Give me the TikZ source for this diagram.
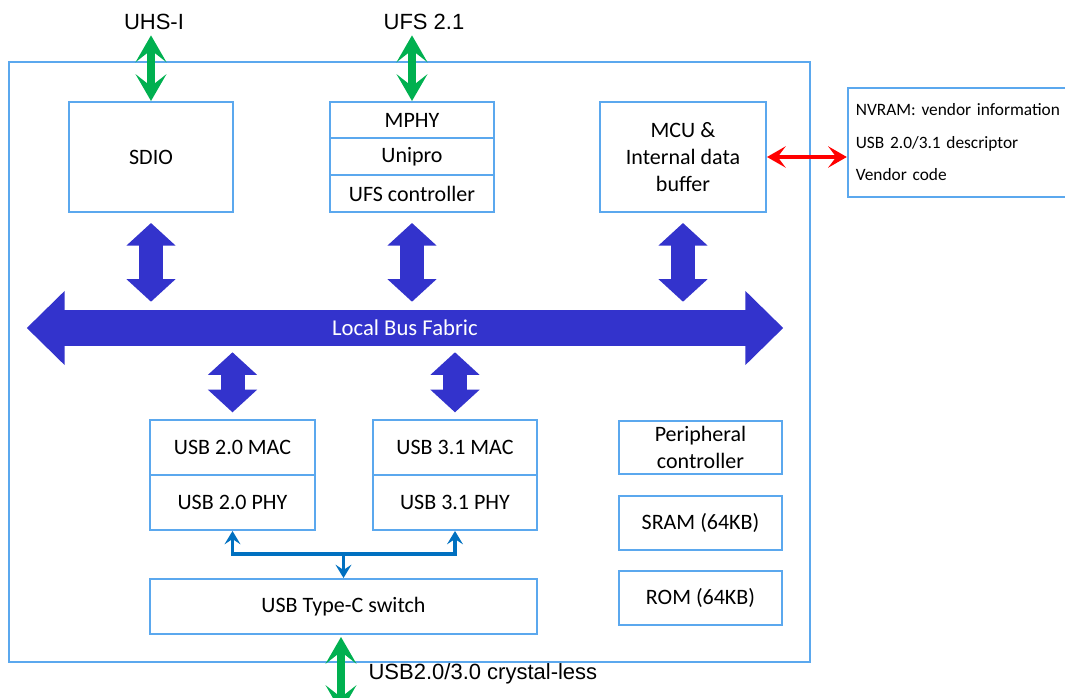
\documentclass[tikz,border=0pt]{standalone}
\usepackage{fontspec}
\setmainfont{Carlito}
\newfontfamily\arialfont{Liberation Sans}
\usetikzlibrary{arrows.meta}
\definecolor{boxblue}{HTML}{5BA8EE}
\definecolor{busblue}{HTML}{3333CC}
\definecolor{linkgreen}{HTML}{00B050}
\definecolor{usbblue}{HTML}{0070C0}

\begin{document}
\begin{tikzpicture}[x=0.75pt,y=-0.75pt,
  blk/.style={draw=boxblue,line width=1.5pt,inner sep=0pt,align=center,
    font=\fontsize{16.5}{20}\selectfont},
  lbl/.style={inner sep=1pt,font=\arialfont\fontsize{16.5}{19}\selectfont},
  fatarrow/.style={draw=busblue,line width=18pt,
    {Triangle[length=17pt,width=36pt]}-{Triangle[length=17pt,width=36pt]}},
  busarrow/.style={draw=busblue,line width=27pt,
    {Triangle[length=28.5pt,width=54pt]}-{Triangle[length=28.5pt,width=54pt]}},
  greenarrow/.style={draw=linkgreen,line width=6.5pt,
    {Stealth[length=20pt,width=23pt,inset=9pt]}-{Stealth[length=20pt,width=23pt,inset=9pt]}},
  redarrow/.style={draw=red,line width=3pt,
    {Stealth[length=14pt,width=16pt,inset=6pt]}-{Stealth[length=14pt,width=16pt,inset=6pt]}},
  usbline/.style={draw=usbblue,line width=2.5pt,
    arrows={-Stealth[length=10pt,width=12pt,inset=4pt]}}]
\useasboundingbox (0,0) rectangle (1065,698);

% chip outline
\draw[boxblue,line width=1.5pt] (9,62) rectangle (810,662);

% top row
\node[blk,minimum width=123pt,minimum height=82.5pt] (sdio) at (151,157) {SDIO};
\node[blk,minimum width=123pt,minimum height=27pt] (mphy) at (412,120) {MPHY};
\node[blk,minimum width=123pt,minimum height=27.75pt] (unipro) at (412,156.5) {Unipro};
\node[blk,minimum width=123pt,minimum height=27.75pt] (ufsc) at (412,193.5) {UFS controller};
\node[blk,minimum width=124.5pt,minimum height=82.5pt] (mcu) at (683,157) {MCU \&\\Internal data\\buffer};
\node[blk,minimum width=171.75pt,minimum height=81.75pt,text width=160pt,inner xsep=6pt,
  align=left,font=\fontsize{13}{24.4}\selectfont] (nvram) at (962.5,142.5)
  {NVRAM: vendor information\\USB 2.0/3.1 descriptor\\Vendor code};

% bottom row
\node[blk,minimum width=123.75pt,minimum height=41.25pt] (usbmacA) at (232.5,447.5) {USB 2.0 MAC};
\node[blk,minimum width=123.75pt,minimum height=41.25pt] (usbphyA) at (232.5,502.5) {USB 2.0 PHY};
\node[blk,minimum width=123pt,minimum height=41.25pt] (usbmacB) at (455,447.5) {USB 3.1 MAC};
\node[blk,minimum width=123pt,minimum height=41.25pt] (usbphyB) at (455,502.5) {USB 3.1 PHY};
\node[blk,minimum width=290.25pt,minimum height=41.25pt] (switch) at (343.5,606.5) {USB Type-C switch};
\node[blk,minimum width=122.25pt,minimum height=39.75pt] (periph) at (700.5,447.5) {Peripheral\\controller};
\node[blk,minimum width=122.25pt,minimum height=40.5pt] (sram) at (700.5,523) {SRAM (64KB)};
\node[blk,minimum width=122.25pt,minimum height=40.5pt] (rom) at (700.5,598) {ROM (64KB)};

% bus
\node[minimum width=567pt,minimum height=27pt,inner sep=0pt] (bus) at (405,328) {};
\draw[busarrow] (bus.west) -- (bus.east)
  node[midway,text=white,font=\fontsize{17}{20}\selectfont] {Local Bus Fabric};
\draw[fatarrow] ([yshift=-7.5pt]sdio.south) -- ([yshift=6pt]sdio.south |- bus.north);
\draw[fatarrow] ([yshift=-7.5pt]ufsc.south) -- ([yshift=6pt]ufsc.south |- bus.north);
\draw[fatarrow] ([yshift=-7.5pt]mcu.south) -- ([yshift=6pt]mcu.south |- bus.north);
\draw[fatarrow] ([yshift=-4.5pt]usbmacA.north |- bus.south) -- ([yshift=5pt]usbmacA.north);
\draw[fatarrow] ([yshift=-4.5pt]usbmacB.north |- bus.south) -- ([yshift=5pt]usbmacB.north);

% external links
\node[lbl] (uhs) at (154,22) {UHS-I};
\node[lbl] (ufs) at (424,22) {UFS 2.1};
\node[lbl,anchor=west] (crys) at (367,674) {USB2.0/3.0 crystal-less};
\draw[greenarrow] ([yshift=-3pt]sdio.north |- uhs.south) -- (sdio.north);
\draw[greenarrow] ([yshift=-3pt]mphy.north |- ufs.south) -- (mphy.north);
\coordinate (usbout) at (341,712);
\draw[greenarrow] ([yshift=-1.5pt]switch.south -| usbout) -- (usbout);
\draw[redarrow] (mcu.east) -- (mcu.east -| nvram.west);

% phy to switch
\coordinate (junc) at (343.5,554);
\draw[usbline,arrows={Stealth[length=10pt,width=12pt,inset=4pt]-Stealth[length=10pt,width=12pt,inset=4pt]}]
  (usbphyA.south) |- (junc) -| (usbphyB.south);
\draw[usbline] (junc) -- (switch.north);
\end{tikzpicture}
\end{document}
